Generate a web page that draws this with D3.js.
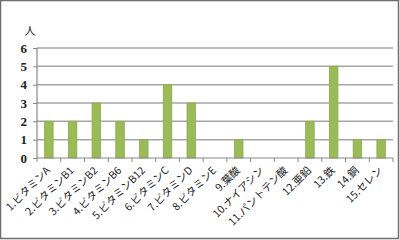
<!DOCTYPE html>
<html>
<head>
<meta charset="utf-8">
<script src="https://cdn.jsdelivr.net/npm/d3@7"></script>
<style>
body { margin: 0; background: #fff; }
svg { display: block; }
</style>
</head>
<body>
<svg width="400" height="240"></svg>
<script>
var categories = ["1.ビタミンA", "2.ビタミンB1", "3.ビタミンB2", "4.ビタミンB6", "5.ビタミンB12",
    "6.ビタミンC", "7.ビタミンD", "8.ビタミンE", "9.葉酸", "10.ナイアシン",
    "11.パントテン酸", "12.亜鉛", "13.鉄", "14.銅", "15.セレン"];
var values = [2, 2, 3, 2, 1, 4, 3, 0, 1, 0, 0, 2, 5, 1, 1];
var yTicks = [0, 1, 2, 3, 4, 5, 6];
var unitLabel = "人";

var svg = d3.select("svg");

// frame
svg.append("rect")
    .attr("x", 0.5).attr("y", 0.5)
    .attr("width", 398).attr("height", 238)
    .attr("fill", "none").attr("stroke", "#6e6e6e").attr("stroke-width", 1.5);

// plot area (note: "top" is reserved on window)
var pLeft = 37, pRight = 393, pTop = 48, pBottom = 158;

var x = d3.scaleBand().domain(categories).range([pLeft, pRight]);
var y = d3.scaleLinear().domain([0, 6]).range([pBottom, pTop]);

// gridlines
svg.append("g").selectAll("line").data(yTicks.filter(function(d) { return d > 0; })).enter().append("line")
    .attr("x1", pLeft).attr("x2", pRight)
    .attr("y1", function(d) { return y(d); }).attr("y2", function(d) { return y(d); })
    .attr("stroke", "#a6a6a6").attr("stroke-width", 1.5);

// bars
var bw = 8.5;
svg.append("g").selectAll("rect").data(values).enter().append("rect")
    .attr("x", function(d, i) { return x(categories[i]) + x.bandwidth() / 2 - bw / 2; })
    .attr("y", function(d) { return y(d); })
    .attr("width", bw)
    .attr("height", function(d) { return pBottom - y(d); })
    .attr("fill", "#9bbb59")
    .attr("stroke", "#8aab4a").attr("stroke-width", 0.8);

// y axis
var yAxis = svg.append("g").attr("transform", "translate(" + pLeft + ",0)")
    .call(d3.axisLeft(y).tickValues(yTicks).tickSize(4).tickPadding(6).tickFormat(d3.format("d")));
yAxis.select(".domain").attr("stroke", "#888").attr("stroke-width", 1.2).attr("d", "M0," + pTop + "V" + pBottom);
yAxis.selectAll(".tick line").attr("stroke", "#888");
yAxis.selectAll("text")
    .style("font-family", "'Liberation Serif', 'DejaVu Serif', serif")
    .style("font-size", "13px").style("font-weight", "bold")
    .attr("fill", "#222");

// x axis
var xAxis = svg.append("g").attr("transform", "translate(0," + pBottom + ")")
    .call(d3.axisBottom(x).tickSize(0).tickFormat(""));
xAxis.select(".domain").attr("stroke", "#888").attr("stroke-width", 1.2).attr("d", "M" + pLeft + ",0H" + pRight);
xAxis.selectAll(".tick").remove();

var bounds = categories.map(function(c) { return x(c); }).concat([pRight]);
svg.append("g").selectAll("line").data(bounds).enter().append("line")
    .attr("x1", function(d) { return d; }).attr("x2", function(d) { return d; })
    .attr("y1", pBottom).attr("y2", pBottom + 4)
    .attr("stroke", "#888").attr("stroke-width", 1);

svg.append("g").selectAll("text").data(categories).enter().append("text")
    .attr("transform", function(d) {
        return "translate(" + (x(d) + x.bandwidth() / 2 + 2) + "," + (pBottom + 13) + ") rotate(-45)";
    })
    .attr("text-anchor", "end")
    .style("font-family", "'Noto Sans CJK JP', sans-serif")
    .style("font-size", "10.5px")
    .attr("fill", "#222")
    .text(function(d) { return d; });

// unit label
svg.append("text")
    .attr("x", 30).attr("y", 35)
    .attr("text-anchor", "middle")
    .style("font-family", "'Noto Sans CJK JP', sans-serif")
    .style("font-size", "11px")
    .attr("fill", "#222")
    .text(unitLabel);
</script>
</body>
</html>
